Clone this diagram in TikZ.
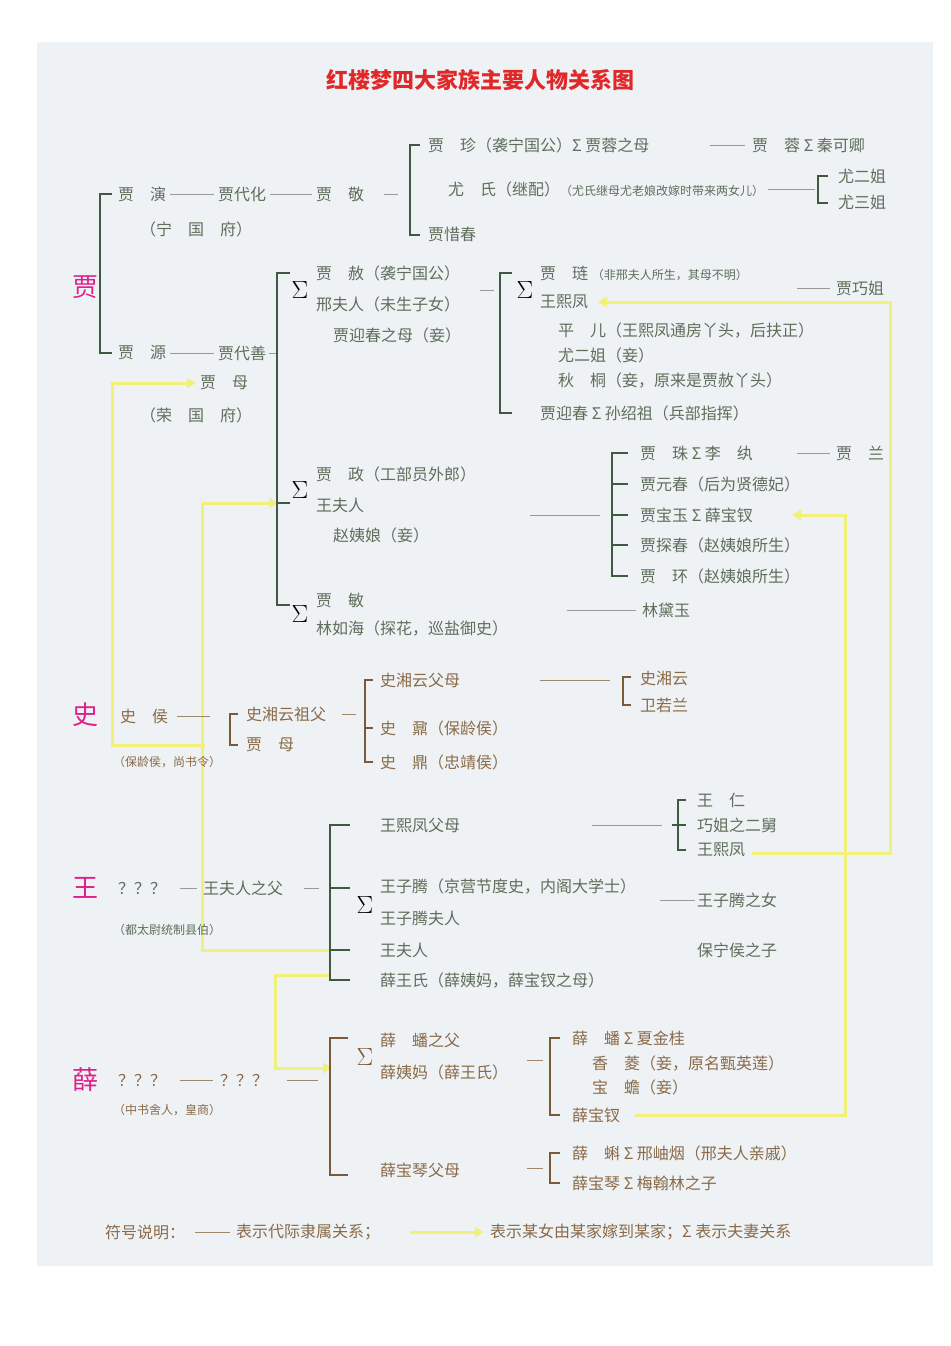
\documentclass[tikz,border=0pt]{standalone}
\usepackage{fontspec}
\setmainfont{Noto Sans CJK SC}
\usetikzlibrary{arrows.meta}
\definecolor{bg}{HTML}{EEF2F5}
\definecolor{gt}{HTML}{5E6E5A}
\definecolor{gl}{HTML}{3F5A40}
\definecolor{bt}{HTML}{8A6A48}
\definecolor{bl}{HTML}{7A5A38}
\definecolor{yl}{HTML}{F0F07A}
\definecolor{mg}{HTML}{E0208A}
\definecolor{ttl}{HTML}{E02828}
\newcommand{\sm}[1]{{\fontsize{12}{13}\selectfont #1}}
\tikzset{
 gtx/.style={text=gt,anchor=west,inner sep=0pt,font=\fontsize{16}{17}\selectfont},
 btx/.style={text=bt,anchor=west,inner sep=0pt,font=\fontsize{16}{17}\selectfont},
 fam/.style={text=mg,inner sep=0pt,font=\fontsize{26}{26}\selectfont},
 gln/.style={draw=gl,line width=1.5pt},
 bln/.style={draw=bl,line width=1.5pt},
 thn/.style={draw=gray!80,line width=0.9pt},
 bthn/.style={draw=bt!80,line width=0.9pt},
 yln/.style={draw=yl,line width=3pt},
 yarr/.style={yln,-{Triangle[length=9pt,width=10pt]}},
 sig/.style={inner sep=0pt,font=\fontsize{38}{38}\selectfont},
}
\begin{document}
\begin{tikzpicture}[x=1pt,y=-1pt]
\useasboundingbox (0,0) rectangle (950,1346);
\fill[bg] (37,42) rectangle (933,1266);
\node[text=ttl,font=\fontsize{22}{23}\selectfont\bfseries] (title) at (480,80) {红楼梦四大家族主要人物关系图};
% family names
\node[fam] (fj) at (85,287) {贾};
\node[fam] (fs) at (85,715) {史};
\node[fam] (fw) at (85,888) {王};
\node[fam] (fx) at (85,1080) {薛};
% yellow lines (behind)
\draw[yarr] (205,745) -- (112,745) -- (112,383) -- (196,383);
\draw[yarr] (330,950) -- (202,950) -- (202,503) -- (278,503);
\draw[yarr] (330,975) -- (275,975) -- (275,1068) -- (332,1068);
\draw[yarr] (752,853) -- (890,853) -- (890,302) -- (598,302);
\draw[yarr] (635,1115) -- (845,1115) -- (845,515) -- (792,515);
%% ===== Jia =====
\draw[gln] (112,194) -- (100,194) -- (100,353) -- (112,353);
\node[gtx] (jy) at (118,194) {贾\quad 演};
\node[gtx] (jdh) at (218,194) {贾代化};
\node[gtx] (jj) at (316,194) {贾\quad 敬};
\draw[thn] ([xshift=4pt]jy.east) -- ([xshift=-4pt]jdh.west);
\draw[thn] ([xshift=4pt]jdh.east) -- ([xshift=-4pt]jj.west);
\draw[thn] (384,194) -- (398,194);
\node[gtx] at (140,229) {（宁\quad 国\quad 府）};
\draw[gln] (420,145) -- (410,145) -- (410,235) -- (420,235);
\node[gtx] (jz) at (428,145) {贾\quad 珍（袭宁国公）Σ 贾蓉之母};
\draw[thn] (710,145) -- (745,145);
\node[gtx] (jr) at (752,145) {贾\quad 蓉 Σ 秦可卿};
\node[gtx] (ys) at (448,189) {尤\quad 氏（继配）\sm{（尤氏继母尤老娘改嫁时带来两女儿）}};
\draw[thn] ([xshift=4pt]ys.east) -- (815,189);
\draw[gln] (828,176) -- (818,176) -- (818,203) -- (828,203);
\node[gtx] at (838,176) {尤二姐};
\node[gtx] at (838,202) {尤三姐};
\node[gtx] at (428,234) {贾惜春};
\node[gtx] (jyu) at (118,353) {贾\quad 源};
\node[gtx] (jds) at (218,353) {贾代善};
\draw[thn] ([xshift=4pt]jyu.east) -- ([xshift=-4pt]jds.west);
\draw[thn] ([xshift=3pt]jds.east) -- (277,353);
\node[gtx] (jm1) at (200,383) {贾\quad 母};
\node[gtx] at (140,415) {（荣\quad 国\quad 府）};
\draw[gln] (290,273) -- (277,273) -- (277,605) -- (290,605);
\draw[gln] (277,503) -- (290,503);
\node[sig] at (300,290) {$\Sigma$};
\node[gtx] at (316,273) {贾\quad 赦（袭宁国公）};
\node[gtx] at (316,304) {邢夫人（未生子女）};
\node[gtx] at (333,335) {贾迎春之母（妾）};
\draw[thn] (480,290) -- (494,290);
\draw[gln] (512,273) -- (500,273) -- (500,413) -- (512,413);
\node[sig] at (525,290) {$\Sigma$};
\node[gtx] at (540,273) {贾\quad 琏 \sm{（非邢夫人所生，其母不明）}};
\node[gtx] (wxf1) at (540,302) {王熙凤};
\node[gtx] at (558,331) {平\quad 儿（王熙凤通房丫头，后扶正）};
\node[gtx] at (558,355) {尤二姐（妾）};
\node[gtx] at (558,381) {秋\quad 桐（妾，原来是贾赦丫头）};
\node[gtx] at (540,413) {贾迎春 Σ 孙绍祖（兵部指挥）};
\draw[thn] (797,288) -- (830,288);
\node[gtx] at (836,288) {贾巧姐};
\node[sig] at (300,490) {$\Sigma$};
\node[gtx] at (316,474) {贾\quad 政（工部员外郎）};
\node[gtx] at (316,505) {王夫人};
\node[gtx] at (333,535) {赵姨娘（妾）};
\draw[thn] (530,515) -- (600,515);
\draw[gln] (628,453) -- (612,453) -- (612,576) -- (628,576);
\foreach \yy in {484,515,545} \draw[gln] (612,\yy) -- (628,\yy);
\node[gtx] at (640,453) {贾\quad 珠 Σ 李\quad 纨};
\draw[thn] (797,453) -- (830,453);
\node[gtx] at (836,453) {贾\quad 兰};
\node[gtx] at (640,484) {贾元春（后为贤德妃）};
\node[gtx] (by) at (640,515) {贾宝玉 Σ 薛宝钗};
\node[gtx] at (640,545) {贾探春（赵姨娘所生）};
\node[gtx] at (640,576) {贾\quad 环（赵姨娘所生）};
\node[sig] at (300,614) {$\Sigma$};
\node[gtx] at (316,600) {贾\quad 敏};
\node[gtx] at (316,628) {林如海（探花，巡盐御史）};
\draw[thn] (567,610) -- (636,610);
\node[gtx] at (642,610) {林黛玉};
%% ===== Shi =====
\node[btx] (sh) at (120,716) {史\quad 侯};
\draw[bthn] (177,716) -- (210,716);
\node[btx] at (113,762) {\sm{（保龄侯，尚书令）}};
\draw[bln] (238,714) -- (230,714) -- (230,745) -- (238,745);
\node[btx] at (246,714) {史湘云祖父};
\draw[bthn] (342,714) -- (356,714);
\node[btx] at (246,745) {贾\quad 母};
\draw[bln] (373,680) -- (365,680) -- (365,762) -- (373,762);
\draw[bln] (365,728) -- (373,728);
\node[btx] at (380,680) {史湘云父母};
\node[btx] at (380,728) {史\quad 鼐（保龄侯）};
\node[btx] at (380,762) {史\quad 鼎（忠靖侯）};
\draw[bthn] (540,680) -- (610,680);
\draw[bln] (631,677) -- (623,677) -- (623,705) -- (631,705);
\node[btx] at (640,678) {史湘云};
\node[btx] at (640,705) {卫若兰};
%% ===== Wang =====
\node[gtx] at (118,888) {？？？};
\draw[thn] (180,888) -- (197,888);
\node[gtx] at (203,888) {王夫人之父};
\draw[thn] (290+14,888) -- (319,888);
\node[gtx] at (113,930) {\sm{（都太尉统制县伯）}};
\draw[gln] (350,825) -- (330,825) -- (330,980) -- (350,980);
\draw[gln] (330,888) -- (350,888);
\draw[gln] (330,950) -- (350,950);
\node[gtx] at (380,825) {王熙凤父母};
\draw[thn] (592,825) -- (662,825);
\draw[gln] (686,800) -- (678,800) -- (678,850) -- (686,850);
\draw[gln] (672,825) -- (686,825);
\node[gtx] at (697,800) {王\quad 仁};
\node[gtx] at (697,825) {巧姐之二舅};
\node[gtx] (wxf2) at (697,850) {王熙凤};
\node[sig] at (365,905) {$\Sigma$};
\node[gtx] at (380,886) {王子腾（京营节度史，内阁大学士）};
\draw[thn] (660,900) -- (695,900);
\node[gtx] at (697,900) {王子腾之女};
\node[gtx] at (380,918) {王子腾夫人};
\node[gtx] at (380,950) {王夫人};
\node[gtx] at (697,950) {保宁侯之子};
\node[gtx] at (380,980) {薛王氏（薛姨妈，薛宝钗之母）};
%% ===== Xue =====
\node[btx] at (118,1080) {？？？};
\draw[bthn] (180,1080) -- (213,1080);
\node[btx] at (220,1080) {？？？};
\draw[bthn] (287,1080) -- (318,1080);
\node[btx] at (113,1110) {\sm{（中书舍人，皇商）}};
\draw[bln] (348,1038) -- (330,1038) -- (330,1175) -- (348,1175);
\node[sig,text=bl] at (365,1057) {$\Sigma$};
\node[btx] at (380,1040) {薛\quad 蟠之父};
\node[btx] at (380,1072) {薛姨妈（薛王氏）};
\draw[bthn] (527,1060) -- (543,1060);
\draw[bln] (560,1038) -- (550,1038) -- (550,1115) -- (560,1115);
\node[btx] at (572,1038) {薛\quad 蟠 Σ 夏金桂};
\node[btx] at (592,1063) {香\quad 菱（妾，原名甄英莲）};
\node[btx] at (592,1087) {宝\quad 蟾（妾）};
\node[btx] at (572,1115) {薛宝钗};
\node[btx] at (380,1170) {薛宝琴父母};
\draw[bthn] (527,1168) -- (543,1168);
\draw[bln] (560,1153) -- (550,1153) -- (550,1183) -- (560,1183);
\node[btx] at (572,1153) {薛\quad 蝌 Σ 邢岫烟（邢夫人亲戚）};
\node[btx] at (572,1183) {薛宝琴 Σ 梅翰林之子};
%% legend
\node[btx] at (105,1232) {符号说明：};
\draw[bthn] (195,1232) -- (230,1232);
\node[btx] at (236,1232) {表示代际隶属关系；};
\draw[yarr] (410,1232) -- (484,1232);
\node[btx] at (490,1232) {表示某女由某家嫁到某家；Σ 表示夫妻关系};
\end{tikzpicture}
\end{document}
